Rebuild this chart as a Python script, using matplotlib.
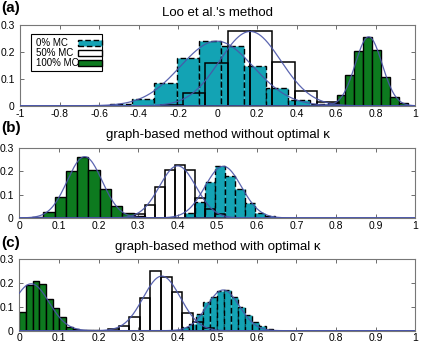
import numpy as np
import matplotlib
matplotlib.use("Agg")
import matplotlib.pyplot as plt
from matplotlib.patches import Rectangle

plt.rcParams['font.family'] = ['Liberation Sans', 'DejaVu Sans']

# ---------------- data ----------------
titles = ["Loo et al.'s method",
          "graph-based method without optimal κ",
          "graph-based method with optimal κ"]
panel_labels = ["(a)", "(b)", "(c)"]
legend_labels = ["0% MC", "50% MC", "100% MC"]

# panel (a)
a_teal_start, a_teal_width = -0.547, 0.113
a_teal_h = [0.005, 0.026, 0.084, 0.177, 0.242, 0.222, 0.149, 0.065, 0.022, 0.005]
a_white_start, a_white_width = -0.288, 0.113
a_white_h = [0.004, 0.049, 0.158, 0.276, 0.276, 0.164, 0.056, 0.014]
a_green_start, a_green_width = 0.512, 0.045
a_green_h = [0.004, 0.010, 0.042, 0.113, 0.205, 0.256, 0.208, 0.108, 0.034, 0.012]

# panel (b)
b_teal_start, b_teal_width = 0.418, 0.0254
b_teal_h = [0.020, 0.068, 0.152, 0.224, 0.181, 0.122, 0.064, 0.021, 0.007]
b_white_start, b_white_width = 0.292, 0.0254
b_white_h = [0.017, 0.057, 0.131, 0.205, 0.226, 0.205, 0.085, 0.040, 0.015]
b_green_start, b_green_width = 0.032, 0.0285
b_green_h = [0.005, 0.027, 0.089, 0.201, 0.262, 0.207, 0.124, 0.053, 0.021, 0.008]

# panel (c)
c_teal_start, c_teal_width = 0.412, 0.0176
c_teal_h = [0.015, 0.030, 0.070, 0.120, 0.142, 0.165, 0.172, 0.142, 0.100, 0.066, 0.038, 0.020, 0.005]
c_white_start, c_white_width = 0.224, 0.0268
c_white_h = [0.005, 0.018, 0.058, 0.137, 0.248, 0.226, 0.160, 0.075, 0.035, 0.012]
c_green_start, c_green_width = 0.0, 0.01685
c_green_h = [0.080, 0.192, 0.209, 0.193, 0.134, 0.093, 0.058, 0.017, 0.007, 0.004, 0.003, 0.002]

# gaussian fit parameters (mean, sigma, peak) per series
a_fits = [(-0.005, 0.185, 0.240), (0.165, 0.155, 0.276), (0.765, 0.068, 0.256)]
b_fits = [(0.515, 0.046, 0.221), (0.400, 0.046, 0.223), (0.165, 0.044, 0.262)]
c_fits = [(0.515, 0.041, 0.170), (0.360, 0.047, 0.228), (0.030, 0.045, 0.196)]

xlims = [(-1, 1), (0, 1), (0, 1)]
xticks_list = [np.round(np.arange(-1, 1.01, 0.2), 1), np.round(np.arange(0, 1.01, 0.1), 1),
               np.round(np.arange(0, 1.01, 0.1), 1)]
yticks = [0, 0.1, 0.2, 0.3]

# ---------------- style ----------------
TEAL = "#13a3b4"
GREEN = "#0d7a1f"
FIT = "#4a55a8"
DASH = (0, (4, 2))

fig = plt.figure(figsize=(4.21, 3.47), dpi=100)
axes_rects = [
    [0.048, 0.695, 0.938, 0.233],
    [0.046, 0.372, 0.940, 0.202],
    [0.046, 0.047, 0.940, 0.207],
]
title_y = [13, 135, 247]
label_y = [8, 128, 243]

panels = [
    (a_teal_start, a_teal_width, a_teal_h, a_white_start, a_white_width, a_white_h,
     a_green_start, a_green_width, a_green_h, a_fits),
    (b_teal_start, b_teal_width, b_teal_h, b_white_start, b_white_width, b_white_h,
     b_green_start, b_green_width, b_green_h, b_fits),
    (c_teal_start, c_teal_width, c_teal_h, c_white_start, c_white_width, c_white_h,
     c_green_start, c_green_width, c_green_h, c_fits),
]

def xfmt(v):
    if abs(v) < 1e-9:
        return "0"
    if abs(abs(v) - 1) < 1e-9:
        return "%d" % round(v)
    return ("%g" % v)

for i, (ts, tw, th, ws, ww, wh, gs, gw, gh, fits) in enumerate(panels):
    ax = fig.add_axes(axes_rects[i])
    tx = ts + tw * np.arange(len(th))
    ax.bar(tx, th, width=tw, align='edge', facecolor=TEAL, edgecolor='black',
           linewidth=1.0, linestyle=DASH, zorder=2)
    gx = gs + gw * np.arange(len(gh))
    ax.bar(gx, gh, width=gw, align='edge', facecolor=GREEN, edgecolor='black',
           linewidth=1.0, zorder=2)
    wx = ws + ww * np.arange(len(wh))
    ax.bar(wx, wh, width=ww, align='edge', facecolor='none', edgecolor='black',
           linewidth=1.1, zorder=3)
    lo, hi = xlims[i]
    xs = np.linspace(lo, hi, 800)
    for (mu, sd, pk) in fits:
        ax.plot(xs, pk * np.exp(-0.5 * ((xs - mu) / sd) ** 2), color=FIT,
                linewidth=0.9, alpha=0.9, zorder=4)

    ax.set_xlim(lo, hi)
    ax.set_ylim(0, 0.3)
    ax.set_xticks(xticks_list[i])
    ax.set_xticklabels([xfmt(v) for v in xticks_list[i]])
    ax.set_yticks(yticks)
    ax.set_yticklabels(["0", "0.1", "0.2", "0.3"])
    ax.tick_params(direction='in', length=3, width=0.6, color='#555555',
                   labelsize=7.5, top=True, right=True)
    ax.tick_params(axis='x', pad=2)
    ax.tick_params(axis='y', pad=4)
    for sp in ax.spines.values():
        sp.set_color('#777777')
        sp.set_linewidth(0.8)

    fig.text(218 / 421, 1 - title_y[i] / 347, titles[i], ha='center', va='center',
             fontsize=9.5)
    fig.text(0.002, 1 - label_y[i] / 347, panel_labels[i], ha='left', va='center',
             fontsize=11, fontweight='bold')

    if i == 0:
        # MATLAB-style legend: text left, swatch right
        T = ax.transAxes
        ax.add_patch(Rectangle((0.027, 0.43), 0.18, 0.455, transform=T,
                               facecolor='white', edgecolor='black', linewidth=0.8,
                               zorder=10, clip_on=False))
        rows = [0.773, 0.65, 0.527]
        faces = [TEAL, 'white', GREEN]
        styles = [DASH, 'solid', 'solid']
        for r, lab, fc, lsty in zip(rows, legend_labels, faces, styles):
            ax.text(0.04, r, lab, transform=T, ha='left', va='center',
                    fontsize=7, zorder=11)
            ax.add_patch(Rectangle((0.146, r - 0.037), 0.062, 0.074, transform=T,
                                   facecolor=fc, edgecolor='black', linewidth=1.0,
                                   linestyle=lsty, zorder=12, clip_on=False))

fig.savefig("out.png", dpi=100)
